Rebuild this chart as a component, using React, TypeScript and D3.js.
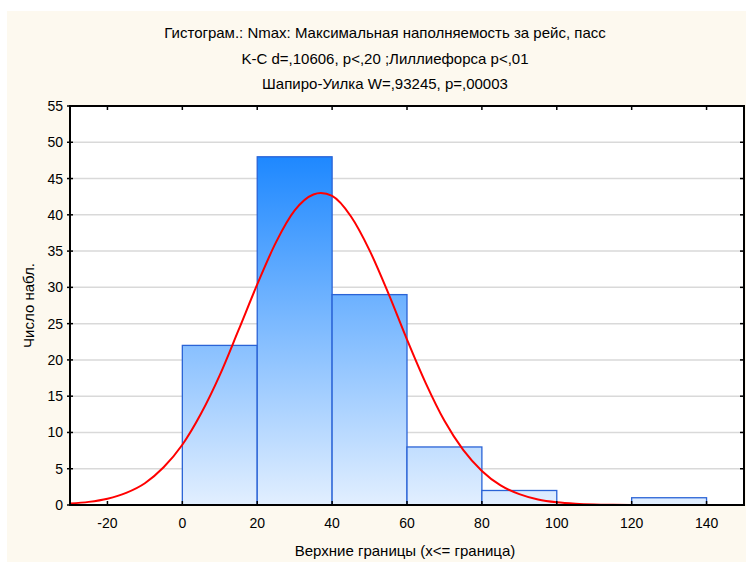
import React, { useEffect, useRef } from 'react';
import * as d3 from 'd3';

const titleLines = [
  'Гистограм.: Nmax: Максимальная наполняемость за рейс, пасс',
  'K-C d=,10606, p<,20 ;Лиллиефорса p<,01',
  'Шапиро-Уилка W=,93245, p=,00003',
];
const xLabel = 'Верхние границы (x<= граница)';
const yLabel = 'Число набл.';

// bin upper bounds and counts
const binStarts = [0, 20, 40, 60, 80, 100, 120];
const binCounts = [22, 48, 29, 8, 2, 0, 1];
const binWidth = 20;

// expected normal curve
const curveX = [-30, -25, -20, -15, -10, -5, 0, 5, 10, 15, 20, 25, 30, 35, 37, 40, 45, 50, 55, 60, 65, 70, 75, 80, 85, 90, 95, 100, 105, 110, 115, 120, 130, 140, 150];
const curveY = [0.2, 0.43, 0.87, 1.67, 3.0, 5.2, 8.3, 12.6, 17.9, 24.1, 30.4, 36.2, 40.6, 42.8, 43.0, 42.6, 39.8, 35.1, 29.2, 22.8, 16.8, 11.6, 7.6, 4.7, 2.7, 1.5, 0.76, 0.37, 0.17, 0.07, 0.03, 0.01, 0, 0, 0];

const xTicks = [-20, 0, 20, 40, 60, 80, 100, 120, 140];
const yTicks = [0, 5, 10, 15, 20, 25, 30, 35, 40, 45, 50, 55];

const W = 746;
const H = 562;
const plot = { left: 70, right: 744, top: 106, bottom: 505 };
const FONT = '"Liberation Sans", Arial, sans-serif';

export default function App() {
  const ref = useRef<SVGSVGElement>(null);

  useEffect(() => {
    const svg = d3.select(ref.current);
    svg.selectAll('*').remove();

    const x = d3.scaleLinear().domain([-30, 150]).range([plot.left, plot.right]);
    const y = d3.scaleLinear().domain([0, 55]).range([plot.bottom, plot.top]);

    const defs = svg.append('defs');
    const grad = defs.append('linearGradient')
      .attr('id', 'barGrad')
      .attr('gradientUnits', 'userSpaceOnUse')
      .attr('x1', 0).attr('x2', 0)
      .attr('y1', y(48)).attr('y2', y(0));
    grad.append('stop').attr('offset', '0%').attr('stop-color', '#1e88ff');
    grad.append('stop').attr('offset', '100%').attr('stop-color', '#e2efff');
    defs.append('clipPath').attr('id', 'plotClip')
      .append('rect')
      .attr('x', plot.left).attr('y', plot.top)
      .attr('width', plot.right - plot.left).attr('height', plot.bottom - plot.top);

    svg.append('rect').attr('x', 0).attr('y', 0).attr('width', W).attr('height', H).attr('fill', '#ffffff');
    svg.append('rect').attr('x', 7).attr('y', 11).attr('width', W - 7).attr('height', H - 11).attr('fill', '#fdf9ef');
    svg.append('rect')
      .attr('x', plot.left).attr('y', plot.top)
      .attr('width', plot.right - plot.left).attr('height', plot.bottom - plot.top)
      .attr('fill', '#ffffff');

    // title
    svg.append('g').selectAll('text').data(titleLines).join('text')
      .attr('x', 385).attr('y', (d, i) => 38 + i * 25.5)
      .attr('text-anchor', 'middle')
      .attr('font-family', FONT).attr('font-size', 15)
      .attr('fill', '#000')
      .text(d => d);

    // gridlines
    svg.append('g').selectAll('line').data(yTicks.filter(t => t > 0 && t < 55)).join('line')
      .attr('x1', plot.left).attr('x2', plot.right)
      .attr('y1', d => y(d)).attr('y2', d => y(d))
      .attr('stroke', '#d9d9d9').attr('stroke-width', 1.5);

    // bars
    svg.append('g').selectAll('rect').data(binStarts.map((s, i) => ({ s, c: binCounts[i] })).filter(d => d.c > 0)).join('rect')
      .attr('x', d => x(d.s)).attr('width', d => x(d.s + binWidth) - x(d.s))
      .attr('y', d => y(d.c)).attr('height', d => y(0) - y(d.c))
      .attr('fill', 'url(#barGrad)')
      .attr('stroke', '#2a63d6').attr('stroke-width', 1.3);

    // normal curve
    const line = d3.line<number>()
      .x((d, i) => x(curveX[i]))
      .y(d => y(d))
      .curve(d3.curveMonotoneX);
    svg.append('path')
      .datum(curveY)
      .attr('clip-path', 'url(#plotClip)')
      .attr('d', line)
      .attr('fill', 'none')
      .attr('stroke', '#ff0000').attr('stroke-width', 2);

    // frame
    svg.append('rect')
      .attr('x', plot.left).attr('y', plot.top)
      .attr('width', plot.right - plot.left).attr('height', plot.bottom - plot.top)
      .attr('fill', 'none').attr('stroke', '#000').attr('stroke-width', 2);

    const ticks = svg.append('g').attr('stroke', '#000').attr('stroke-width', 1.5);
    xTicks.forEach(t => {
      ticks.append('line').attr('x1', x(t)).attr('x2', x(t)).attr('y1', plot.bottom).attr('y2', plot.bottom - 4);
      ticks.append('line').attr('x1', x(t)).attr('x2', x(t)).attr('y1', plot.top).attr('y2', plot.top + 4);
    });
    yTicks.forEach(t => {
      ticks.append('line').attr('x1', plot.left - 3).attr('x2', plot.left + 3).attr('y1', y(t)).attr('y2', y(t));
      ticks.append('line').attr('x1', plot.right - 4).attr('x2', plot.right).attr('y1', y(t)).attr('y2', y(t));
    });

    // tick labels
    svg.append('g').selectAll('text').data(xTicks).join('text')
      .attr('x', d => x(d)).attr('y', 528)
      .attr('text-anchor', 'middle')
      .attr('font-family', FONT).attr('font-size', 14)
      .text(d => String(d));
    svg.append('g').selectAll('text').data(yTicks).join('text')
      .attr('x', 63).attr('y', d => y(d) + 5)
      .attr('text-anchor', 'end')
      .attr('font-family', FONT).attr('font-size', 14)
      .text(d => String(d));

    // axis titles
    svg.append('text')
      .attr('x', 405).attr('y', 556)
      .attr('text-anchor', 'middle')
      .attr('font-family', FONT).attr('font-size', 15)
      .text(xLabel);
    svg.append('text')
      .attr('transform', `translate(34, ${(plot.top + plot.bottom) / 2}) rotate(-90)`)
      .attr('text-anchor', 'middle')
      .attr('font-family', FONT).attr('font-size', 15)
      .text(yLabel);
  }, []);

  return (
    <svg ref={ref} width={W} height={H} style={{ position: 'absolute', left: 0, top: 0 }} />
  );
}
